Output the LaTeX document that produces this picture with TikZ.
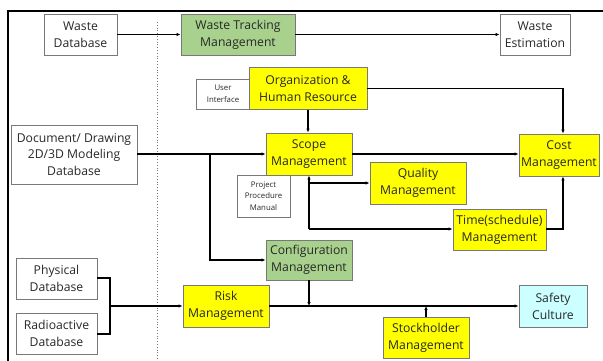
\documentclass[tikz,border=0pt]{standalone}
\usepackage{fontspec}
\setmainfont{Open Sans}
\usetikzlibrary{arrows.meta}
\definecolor{boxgreen}{RGB}{169,209,142}
\definecolor{boxyellow}{RGB}{255,255,0}
\definecolor{boxcyan}{RGB}{204,255,255}
\definecolor{edgegray}{RGB}{120,120,120}
\definecolor{txt}{RGB}{40,40,40}
\tikzset{
  box/.style={draw=edgegray, line width=0.9pt, inner sep=0pt, align=center,
    text=txt, font=\fontsize{12.2}{16.8}\selectfont},
  wbox/.style={box, fill=white},
  ybox/.style={box, fill=boxyellow},
  gbox/.style={box, fill=boxgreen},
  cbox/.style={box, fill=boxcyan},
  small/.style={box, fill=white, font=\fontsize{7.8}{11.5}\selectfont},
  arr/.style={line width=1.2pt, -{Latex[length=4pt,width=3.5pt]}},
  ln/.style={line width=1.2pt},
}
\begin{document}
\begin{tikzpicture}[x=1pt,y=-1pt]
\useasboundingbox (0,0) rectangle (603,361);
% frame
\draw[line width=1.4pt] (8,361) -- (8,11) -- (603,11);
\draw[edgegray, dotted, line width=0.8pt] (157,22) -- (157,361);
% nodes
\node[wbox, minimum width=73, minimum height=41] (wdb) at (80.5,34.5) {Waste\\Database};
\node[gbox, minimum width=114, minimum height=41] (wtm) at (238,34.5) {Waste Tracking\\Management};
\node[wbox, minimum width=70, minimum height=41] (wes) at (535,34.5) {Waste\\Estimation};
\node[small, minimum width=54, minimum height=30] (ui) at (223,94) {User\\Interface};
\node[ybox, minimum width=118, minimum height=42] (org) at (308,88.5) {Organization \&\\Human Resource};
\node[wbox, minimum width=126, minimum height=59] (doc) at (74,154.5) {Document/ Drawing\\2D/3D Modeling\\Database};
\node[ybox, minimum width=86, minimum height=42] (scope) at (309,154) {Scope\\Management};
\node[small, minimum width=53, minimum height=42] (ppm) at (263.5,196) {Project\\Procedure\\Manual};
\node[ybox, minimum width=80, minimum height=42] (cost) at (559,155) {Cost\\Management};
\node[ybox, minimum width=96, minimum height=42] (qual) at (418,183) {Quality\\Management};
\node[ybox, minimum width=93, minimum height=41] (time) at (499.5,229.5) {Time(schedule)\\Management};
\node[gbox, minimum width=86, minimum height=40] (conf) at (309,260) {Configuration\\Management};
\node[wbox, minimum width=81, minimum height=41] (phys) at (56.5,278.5) {Physical\\Database};
\node[wbox, minimum width=81, minimum height=41] (radio) at (56.5,333.5) {Radioactive\\Database};
\node[ybox, minimum width=86, minimum height=42] (risk) at (226,306) {Risk\\Management};
\node[cbox, minimum width=68, minimum height=42] (safety) at (553,306) {Safety\\Culture};
\node[ybox, minimum width=86, minimum height=41] (stock) at (426,337.5) {Stockholder\\Management};
% helper coordinates
\coordinate (cx) at (563,0);
\coordinate (jdoc) at (210,154);
\coordinate (sx) at (309,0);
\coordinate (bx) at (110,306);
\coordinate (qy) at (0,183);
\coordinate (ty) at (0,229);
% connectors
\draw[arr] (wdb) -- (wtm);
\draw[arr] (wtm) -- (wes);
\draw[arr] (org.east) -| (cx |- cost.north);
\draw[arr] ([xshift=-1pt]org.south -| scope.north) -- ([xshift=-1pt]scope.north);
\draw[arr] (doc.east |- jdoc) -- (scope.west |- jdoc);
\draw[arr] (jdoc) |- (conf.west);
\draw[arr] (scope.east |- jdoc) -- (cost.west |- jdoc);
\draw[arr] (sx |- ty) -- (sx |- scope.south);
\draw[arr] (sx |- qy) -- (qual.west |- qy);
\draw[arr] (sx |- ty) -- (time.west |- ty);
\draw[arr] (time.east |- ty) -| (cx |- cost.south);
\draw[arr] (conf.south) -- (conf.south |- bx);
\draw[ln] (phys.east |- 0,278) -| (bx) |- (radio.east |- 0,334);
\draw[arr] (bx) -- (risk.west);
\draw[arr] (risk.east) -- (safety.west);
\draw[arr] (stock.north) -- (stock.north |- bx);
\end{tikzpicture}
\end{document}
